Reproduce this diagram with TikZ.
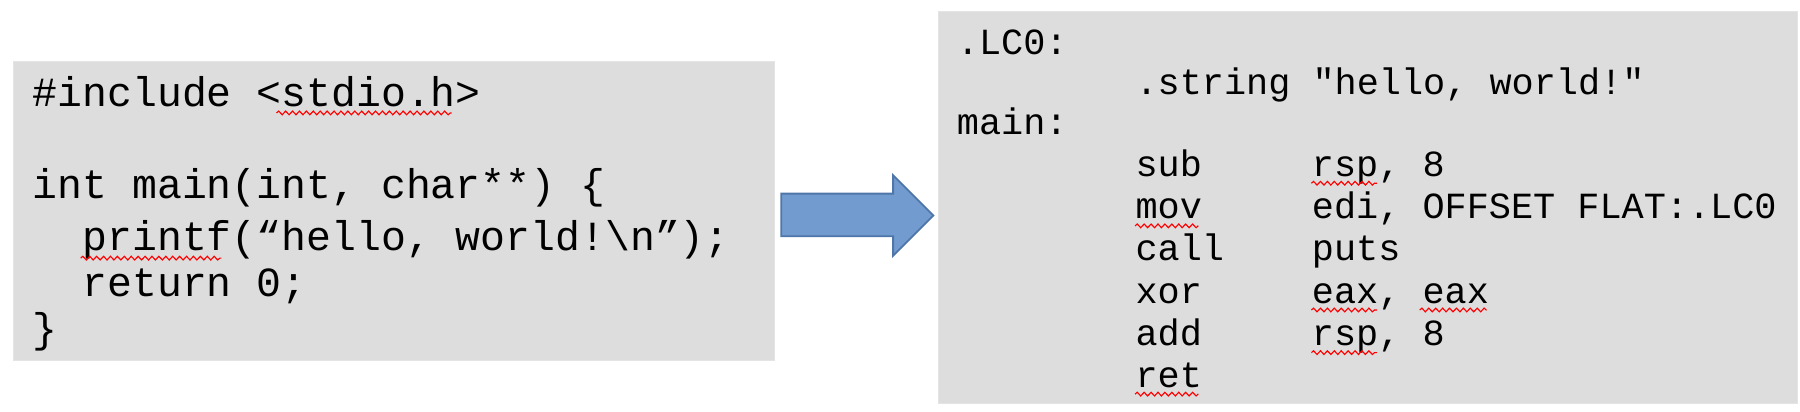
\documentclass[tikz,border=0pt]{standalone}
\usepackage{fontspec}
\setmonofont{Liberation Mono}
\usetikzlibrary{decorations.pathmorphing}
\definecolor{boxgray}{HTML}{DDDDDD}
\definecolor{arrowblue}{HTML}{729BD0}
\definecolor{arrowedge}{HTML}{4F76A8}
\begin{document}
\begin{tikzpicture}[x=0.5pt,y=-0.5pt]
 \tikzset{codebox/.style={fill=boxgray, draw=boxgray!80}}
 \tikzset{srcline/.style={anchor=base west, inner sep=0pt, font=\ttfamily\fontsize{18}{18}\selectfont}}
 \tikzset{asmline/.style={anchor=base west, inner sep=0pt, font=\ttfamily\fontsize{16}{16}\selectfont}}
 \tikzset{spell/.style={red, line width=0.5pt, decorate, decoration={snake, amplitude=0.8pt, segment length=3pt}}}
  \useasboundingbox (0,0) rectangle (1562,357);
  % source box
  \fill[codebox] (12,53) rectangle (672,313);
  \node[srcline] (S1) at (28,92) {\#include <stdio.h>};
  \node[srcline] (S2) at (28,172) {int main(int, char**) \{};
  \node[srcline] (S3) at (28,217) {\ \ printf(“hello, world!\textbackslash n”);};
  \node[srcline] (S4) at (28,257) {\ \ return 0;};
  \node[srcline] (S5) at (28,297) {\}};
  \draw[spell] (240,98) -- (392,98);
  \draw[spell] (70,224) -- (192,224);
  % arrow
  \draw[fill=arrowblue, draw=arrowedge, line width=0.8pt]
    (678,168) -- (775,168) -- (775,152) -- (810,187) -- (775,222) -- (775,205) -- (678,205) -- cycle;
  % assembly box
  \fill[codebox] (814,10) rectangle (1560,350);
  \node[asmline] (A1) at (830,47) {.LC0:};
  \node[asmline] (A2) at (985,82) {.string "hello, world!"};
  \node[asmline] (A3) at (830,117) {main:};
  \foreach \op/\arg/\y [count=\i] in {sub/{rsp, 8}/153, mov/{edi, OFFSET FLAT:.LC0}/190, call/puts/226, xor/{eax, eax}/263, add/{rsp, 8}/300, ret//336} {
    \node[asmline] (op\i) at (985,\y) {\op};
    \node[asmline] (arg\i) at (1138,\y) {\arg};
  }
  \draw[spell] (1138,159) -- (1195,159);
  \draw[spell] (985,196) -- (1040,196);
  \draw[spell] (1138,269) -- (1195,269);
  \draw[spell] (1232,269) -- (1290,269);
  \draw[spell] (1138,306) -- (1195,306);
  \draw[spell] (985,342) -- (1040,342);
\end{tikzpicture}
\end{document}
